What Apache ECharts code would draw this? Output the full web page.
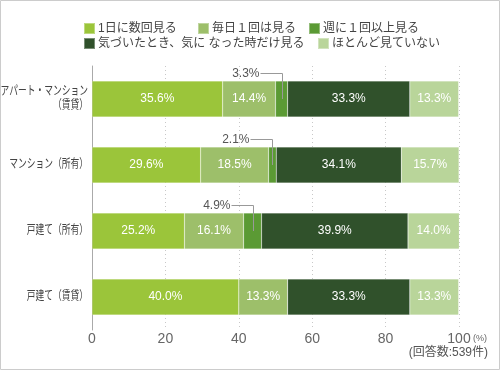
<!DOCTYPE html>
<html><head><meta charset="utf-8">
<script src="https://cdn.jsdelivr.net/npm/echarts@6/dist/echarts.min.js"></script>
<style>html,body{margin:0;padding:0;background:#fff}#c{width:500px;height:370px}</style>
</head><body><div id="c"></div>
<script>
const categories = ['アパート・マンション\n（賃貸）', 'マンション（所有）', '戸建て（所有）', '戸建て（賃貸）'];
const seriesNames = ['1日に数回見る', '毎日１回は見る', '週に１回以上見る', '気づいたとき、気に なった時だけ見る', 'ほとんど見ていない'];
const severalTimesDaily = [35.6, 29.6, 25.2, 40.0];
const oncePerDay = [14.4, 18.5, 16.1, 13.3];
const oncePerWeek = [3.3, 2.1, 4.9, 0];
const whenNoticed = [33.3, 34.1, 39.9, 33.3];
const rarely = [13.3, 15.7, 14.0, 13.3];
const xTicks = [0, 20, 40, 60, 80, 100];

const FONT = "'Liberation Sans', 'Noto Sans CJK JP', sans-serif";
const colors = ['#9bc53a', '#9dbf6a', '#5b9a34', '#30512b', '#b9d59a'];
const values = [severalTimesDaily, oncePerDay, oncePerWeek, whenNoticed, rarely];

const chart = echarts.init(document.getElementById('c'), null, {renderer: 'canvas'});

const barSeries = values.map((arr, i) => ({
  name: seriesNames[i],
  type: 'bar',
  stack: 'all',
  barWidth: 36,
  data: arr,
  itemStyle: {color: colors[i], borderColor: 'rgba(255,255,255,0.35)', borderWidth: 0.5},
  label: {
    show: i !== 2,
    position: 'inside',
    color: '#fff',
    fontSize: 12,
    fontFamily: FONT,
    formatter: p => p.value > 0 ? p.value.toFixed(1) + '%' : ''
  },
  emphasis: {disabled: true}
}));

const leaderData = [];
categories.forEach((c, ci) => {
  if (oncePerWeek[ci] > 0) {
    leaderData.push([ci, severalTimesDaily[ci] + oncePerDay[ci] + oncePerWeek[ci] / 2, oncePerWeek[ci]]);
  }
});
const catLabelData = categories.map((c, ci) => [0, ci]);

const legendPos = [
  {left: 83, top: 22}, {left: 197, top: 22}, {left: 308, top: 22},
  {left: 83, top: 37}, {left: 317, top: 37}
];

chart.setOption({
  animation: false,
  textStyle: {fontFamily: FONT},
  color: colors,
  legend: seriesNames.map((n, i) => ({
    data: [n], left: legendPos[i].left, top: legendPos[i].top, padding: 0,
    itemWidth: 11, itemHeight: 11, itemGap: 0, icon: 'rect', selectedMode: false,
    textStyle: {fontSize: 12, color: '#444', fontFamily: FONT, padding: [0, 0, 0, -2]}
  })),
  grid: {left: 92, right: 41, top: 66, bottom: 40, outerBoundsMode: 'none', containLabel: false},
  xAxis: {
    type: 'value', min: 0, max: 100, interval: 20,
    axisLine: {show: false}, axisTick: {show: false},
    splitLine: {show: true, lineStyle: {type: [1, 3], color: '#c8c8c8'}},
    axisLabel: {color: '#666', fontSize: 14, margin: 2, fontFamily: FONT,
      formatter: v => xTicks.includes(v) ? String(v) : ''}
  },
  yAxis: {
    type: 'category', data: categories, inverse: true,
    axisLine: {show: true, lineStyle: {color: '#aaa'}}, axisTick: {show: false},
    axisLabel: {show: false}
  },
  series: barSeries.concat([{
    type: 'custom',
    name: 'leader',
    data: leaderData,
    encode: {x: 1, y: 0},
    z: 10,
    silent: true,
    clip: false,
    renderItem: (params, api) => {
      const p = api.coord([api.value(1), api.value(0)]);
      const up = 26.5;
      const len = 22;
      const x = Math.round(p[0]) + 0.5;
      const y = Math.round(p[1] - up) + 0.5;
      return {
        type: 'group',
        children: [
          {type: 'polyline', shape: {points: [[x, p[1]], [x, y], [x - len, y]]},
            style: {stroke: '#999', lineWidth: 1, fill: null}},
          {type: 'text', style: {x: x - len - 1, y: y, text: api.value(2).toFixed(1) + '%',
            align: 'right', verticalAlign: 'middle', fill: '#555', fontSize: 12, fontFamily: FONT}}
        ]
      };
    }
  }, {
    type: 'custom',
    name: 'categoryLabels',
    data: catLabelData,
    encode: {x: 0, y: 1},
    silent: true,
    clip: false,
    renderItem: (params, api) => {
      const p = api.coord([api.value(0), api.value(1)]);
      return {
        type: 'text',
        x: p[0] - 4,
        y: p[1],
        scaleX: 0.7,
        style: {text: categories[params.dataIndex], align: 'right', verticalAlign: 'middle',
          fill: '#444', fontSize: 12.5, lineHeight: 14, fontFamily: FONT}
      };
    }
  }]),
  graphic: [
    {type: 'rect', shape: {x: 0.5, y: 0.5, width: 499, height: 369}, style: {fill: null, stroke: '#ccc', lineWidth: 1}, silent: true},
    {type: 'text', left: 473, top: 334, style: {text: '(%)', fill: '#666', fontSize: 9, fontFamily: FONT}},
    {type: 'text', right: 12, top: 347, style: {text: '(回答数:539件)', fill: '#555', fontSize: 12, fontFamily: FONT}}
  ]
});
</script></body></html>
